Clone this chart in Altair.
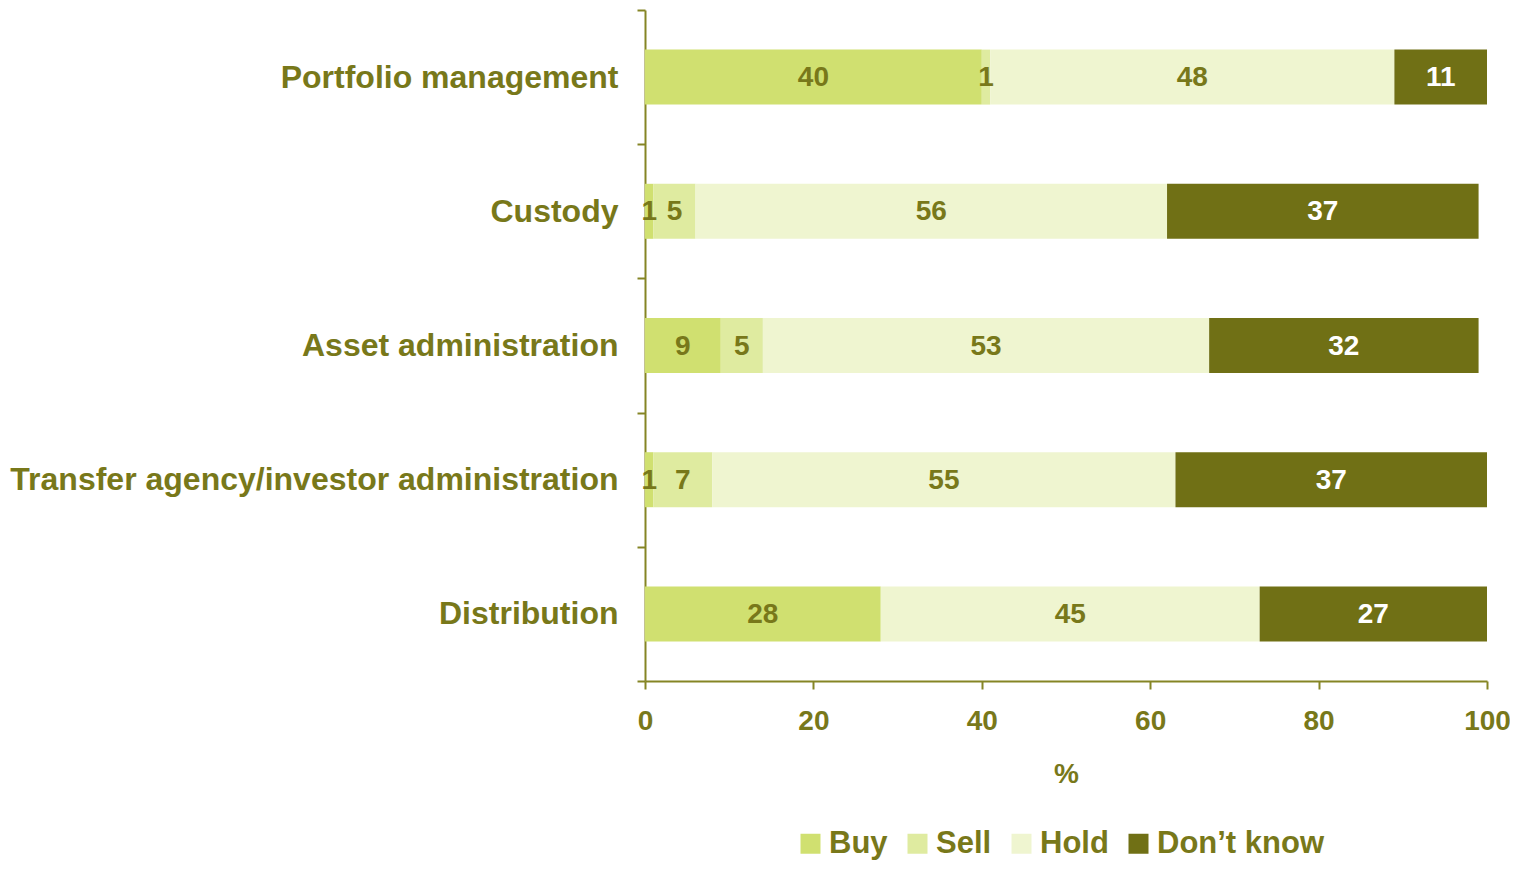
import altair as alt
import pandas as pd

categories = ["Portfolio management", "Custody", "Asset administration",
              "Transfer agency/investor administration", "Distribution"]
responses = ["Buy", "Sell", "Hold", "Don\u2019t know"]
buy = [40, 1, 9, 1, 28]
sell = [1, 5, 5, 7, 0]
hold = [48, 56, 53, 55, 45]
dont_know = [11, 37, 32, 37, 27]

colors = ["#D0E070", "#DFEBA0", "#EFF5D0", "#707015"]
OLIVE = "#78781A"
AXIS = "#858525"
FONT = "Liberation Sans"

rows = []
for i, c in enumerate(categories):
    for j, (r, series) in enumerate(zip(responses, [buy, sell, hold, dont_know])):
        v = series[i]
        if v > 0:
            rows.append({"category": c, "response": r, "value": v, "order": j})
df = pd.DataFrame(rows)

base = alt.Chart(df).transform_stack(
    stack="value", as_=["x0", "x1"], groupby=["category"],
    sort=[alt.SortField("order", order="ascending")]
).transform_calculate(mid="(datum.x0 + datum.x1) / 2")

y = alt.Y("category:N", sort=categories, title=None,
          scale=alt.Scale(paddingInner=0, paddingOuter=0),
          axis=alt.Axis(labelFontSize=32, labelFont=FONT, labelFontWeight="bold",
                        labelColor=OLIVE, labelPadding=19, tickSize=8,
                        tickBand="extent", domainColor=AXIS, tickColor=AXIS,
                        domainWidth=2, tickWidth=2, labelLimit=1000))

bars = base.mark_bar(height=55).encode(
    x=alt.X("x0:Q", title="%",
            scale=alt.Scale(domain=[0, 100], nice=False),
            axis=alt.Axis(values=[0, 20, 40, 60, 80, 100], tickSize=8,
                          labelFontSize=28, labelFont=FONT, labelFontWeight="bold",
                          labelColor=OLIVE, labelPadding=18, labelFlush=False,
                          grid=False, domainColor=AXIS, tickColor=AXIS,
                          domainWidth=2, tickWidth=2, titleFontSize=28,
                          titleFont=FONT, titleFontWeight="bold",
                          titleColor=OLIVE, titlePadding=25)),
    x2="x1:Q",
    y=y,
    color=alt.Color("response:N",
                    scale=alt.Scale(domain=responses, range=colors),
                    legend=alt.Legend(title=None, orient="none", direction="horizontal",
                                      legendX=150, legendY=818,
                                      symbolType="square", symbolSize=400,
                                      symbolStrokeWidth=0, labelFontSize=31,
                                      labelFont=FONT, labelFontWeight="bold",
                                      labelColor=OLIVE, labelOffset=3,
                                      labelLimit=1000, columnPadding=14)),
)

labels = base.mark_text(font=FONT, fontWeight="bold", fontSize=28, dy=1).encode(
    x="mid:Q",
    y=alt.Y("category:N", sort=categories),
    text="value:Q",
    color=alt.condition("datum.order == 3", alt.value("white"), alt.value(OLIVE)),
)

chart = alt.layer(bars, labels).properties(
    width=842, height=671,
    autosize=alt.AutoSizeParams(type="none"),
    padding={"left": 637, "top": 2, "right": 23, "bottom": 180},
).configure_view(stroke=None)

chart.save("out.html", embed_options={"renderer": "svg", "actions": False})
